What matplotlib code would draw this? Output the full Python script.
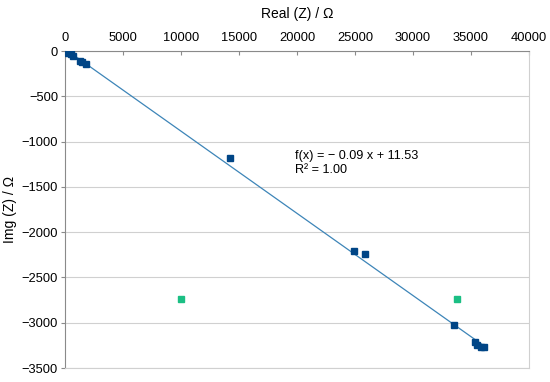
import numpy as np
import matplotlib
matplotlib.use("Agg")
import matplotlib.pyplot as plt

plt.rcParams['font.family'] = ['Liberation Sans', 'DejaVu Sans']

# Data (Real Z, Img Z) in ohm
real_z = [100, 300, 500, 700, 1300, 1500, 1800, 14200, 24900, 25900, 33550, 35350, 35500, 35850, 36150]
img_z = [-5, -20, -35, -55, -105, -125, -145, -1185, -2205, -2240, -3025, -3215, -3245, -3265, -3265]
outlier_real = [10000, 33750]
outlier_img = [-2740, -2740]

fit_text = "f(x) = \u2212 0.09 x + 11.53\nR\u00b2 = 1.00"

fig = plt.figure(figsize=(5.5, 3.82), dpi=100)
ax = fig.add_axes([65/550, 1 - 368/382, (529-65)/550, (368-51)/382])

x = np.array(real_z)
y = np.array(img_z)
slope, intercept = np.polyfit(x, y, 1)
xl = np.array([x.min(), x.max()])
ax.plot(xl, slope*xl + intercept, color='#3d85b8', lw=0.9, zorder=2)

ax.plot(real_z, img_z, 's', color='#004586', ms=5, mec='#004586', zorder=3)
ax.plot(outlier_real, outlier_img, 's', color='#1bbf84', ms=4.5, mec='#1bbf84', zorder=3)

ax.set_xlim(0, 40000)
ax.set_ylim(-3500, 0)
ax.set_xticks(np.arange(0, 40001, 5000))
ax.set_yticks(np.arange(-3500, 1, 500))
ax.xaxis.tick_top()
ax.xaxis.set_label_position('top')
ax.tick_params(axis='x', direction='in', length=3, colors='#8a8a8a', labelcolor='black', labelsize=9.3, pad=5)
ax.tick_params(axis='y', direction='out', length=3, colors='#8a8a8a', labelcolor='black', labelsize=9.3, pad=2)
ax.yaxis.grid(True, color='#d0d0d0', lw=0.8)
ax.set_axisbelow(True)
for s in ['top', 'left']:
    ax.spines[s].set_color('#8a8a8a')
for s in ['bottom', 'right']:
    ax.spines[s].set_color('#d0d0d0')

ax.set_xlabel('Real (Z) / \u03a9', fontsize=10, labelpad=10)
ax.set_ylabel('Img (Z) / \u03a9', fontsize=10, labelpad=3)

ax.text(19830, -1090, fit_text, fontsize=9.1, va='top', ha='left', linespacing=1.3)

fig.savefig('out.png', dpi=100)
